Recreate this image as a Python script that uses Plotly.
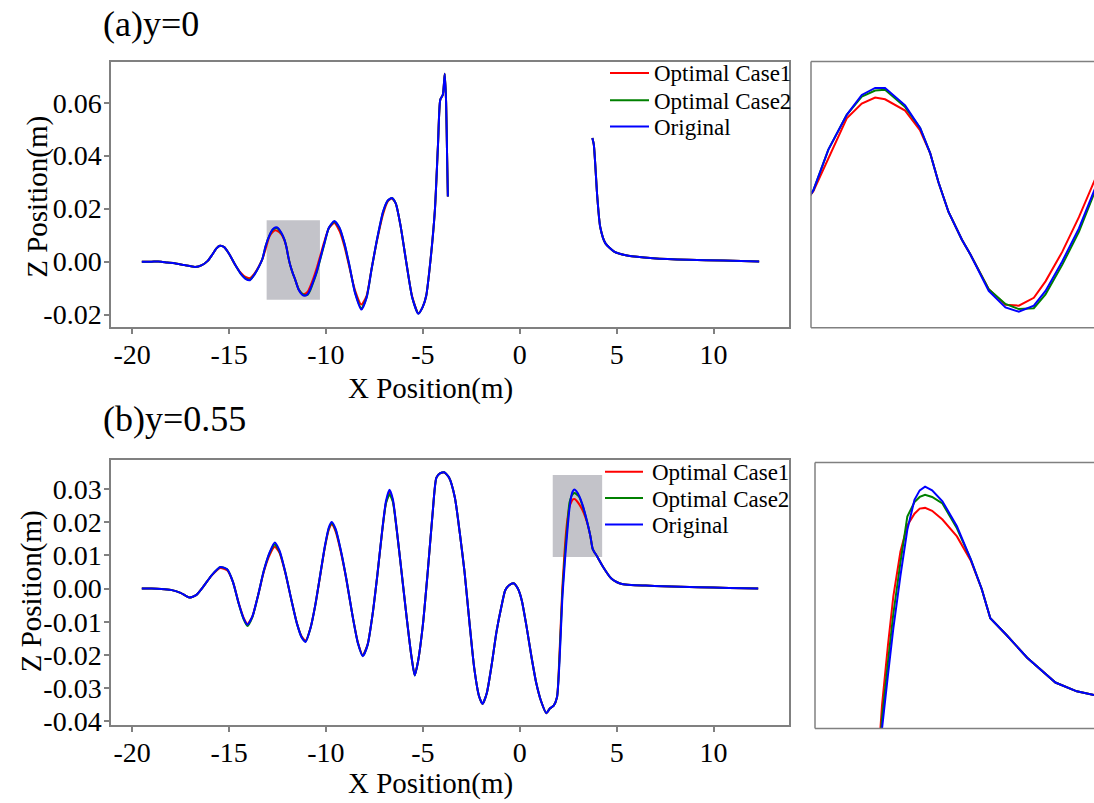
import plotly.graph_objects as go

W, H = 1094, 803
FONT = "Liberation Serif"

# ---------------- data: (a) y=0 ----------------
TOP_X = [
    -19.5, -19.0, -18.5, -18.2, -17.8, -17.3, -16.75, -16.4, -16.1, -15.85,
    -15.65, -15.47, -15.25, -15.0, -14.7, -14.4, -14.15, -13.92, -13.7, -13.45,
    -13.275, -13.116, -12.921, -12.762, -12.62, -12.515, -12.302, -12.143, -12.037, -11.948,
    -11.842, -11.7, -11.61, -11.416, -11.239, -11.097, -10.938, -10.814, -10.637, -10.46,
    -10.293, -10.1, -9.85, -9.57, -9.3, -9.05, -8.8, -8.5, -8.17, -7.9,
    -7.65, -7.35, -7.05, -6.8, -6.6, -6.4, -6.15, -5.85, -5.55, -5.23,
    -5.0, -4.83, -4.6, -4.38, -4.22, -4.10, -3.97, -3.87, -3.80, -3.75,
    -3.71, None, 3.745, 3.82, 4.00, 4.15, 4.42, 4.87, 5.60, 6.88,
    8.70, 10.52, 12.35,
]
TOP_ORIGINAL = [
    0.0, 0.0, 0.0, -0.0003, -0.0006, -0.0013, -0.0020, -0.0013, 0.0003, 0.0028,
    0.0050, 0.0060, 0.0055, 0.0030, -0.0010, -0.0045, -0.0065, -0.0070, -0.0050, -0.0018,
    0.0011, 0.0058, 0.0098, 0.0121, 0.0129, 0.0129, 0.0109, 0.0083, 0.0054, 0.0020,
    -0.0014, -0.0046, -0.0063, -0.0105, -0.0124, -0.0129, -0.0122, -0.0105, -0.0071, -0.0033,
    0.0012, 0.0065, 0.0128, 0.0153, 0.0128, 0.0070, -0.0010, -0.0118, -0.0181, -0.0135,
    -0.0030, 0.0090, 0.0190, 0.0232, 0.0240, 0.0220, 0.0135, -0.0005, -0.0135, -0.0197,
    -0.0170, -0.0130, 0.0010, 0.0194, 0.0440, 0.0612, 0.0630, 0.0709, 0.0600, 0.0400,
    0.0246, None, 0.0467, 0.0442, 0.0243, 0.0131, 0.0069, 0.0038, 0.0022, 0.0013,
    0.0007, 0.0004, 0.0001,
]
TOP_CASE1 = [
    0.0, 0.0, 0.0, -0.0003, -0.0006, -0.0013, -0.0020, -0.0013, 0.0003, 0.0028,
    0.0050, 0.0060, 0.0055, 0.0030, -0.0010, -0.0042, -0.0058, -0.0062, -0.0046, -0.0016,
    0.0010, 0.0047, 0.0094, 0.0111, 0.0118, 0.0116, 0.0103, 0.0080, 0.0054, 0.0020,
    -0.0014, -0.0046, -0.0063, -0.0103, -0.0121, -0.0122, -0.0113, -0.0094, -0.0060, -0.0020,
    0.0022, 0.0072, 0.0126, 0.0146, 0.0115, 0.0058, -0.0018, -0.0108, -0.0162, -0.0128,
    -0.0028, 0.0085, 0.0180, 0.0228, 0.0238, 0.0220, 0.0135, -0.0005, -0.0132, -0.0195,
    -0.0170, -0.0130, 0.0010, 0.0194, 0.0440, 0.0612, 0.0630, 0.0709, 0.0600, 0.0400,
    0.0246, None, 0.0467, 0.0442, 0.0243, 0.0131, 0.0069, 0.0038, 0.0022, 0.0013,
    0.0007, 0.0004, 0.0001,
]
TOP_CASE2 = [
    0.0, 0.0, 0.0, -0.0003, -0.0006, -0.0013, -0.0020, -0.0013, 0.0003, 0.0028,
    0.0050, 0.0060, 0.0055, 0.0030, -0.0010, -0.0045, -0.0063, -0.0068, -0.0050, -0.0018,
    0.0011, 0.0058, 0.0098, 0.0119, 0.0126, 0.0127, 0.0107, 0.0083, 0.0054, 0.0020,
    -0.0014, -0.0046, -0.0063, -0.0103, -0.0120, -0.0126, -0.0125, -0.0109, -0.0075, -0.0037,
    0.0009, 0.0062, 0.0127, 0.0151, 0.0126, 0.0068, -0.0012, -0.0116, -0.0176, -0.0134,
    -0.0030, 0.0089, 0.0188, 0.0231, 0.0240, 0.0220, 0.0135, -0.0005, -0.0135, -0.0196,
    -0.0170, -0.0130, 0.0010, 0.0194, 0.0440, 0.0612, 0.0630, 0.0709, 0.0600, 0.0400,
    0.0246, None, 0.0467, 0.0442, 0.0243, 0.0131, 0.0069, 0.0038, 0.0022, 0.0013,
    0.0007, 0.0004, 0.0001,
]

# ---------------- data: (b) y=0.55 ----------------
BOT_X = [
    -19.5, -19.0, -18.5, -18.0, -17.5, -17.05, -16.7, -16.3, -15.9, -15.45,
    -15.1, -14.8, -14.5, -14.25, -14.05, -13.8, -13.5, -13.2, -12.9, -12.64,
    -12.4, -12.1, -11.8, -11.5, -11.25, -11.05, -10.8, -10.55, -10.3, -10.05,
    -9.85, -9.7, -9.5, -9.25, -8.95, -8.65, -8.35, -8.1, -7.85, -7.6,
    -7.35, -7.1, -6.9, -6.72, -6.55, -6.35, -6.1, -5.85, -5.6, -5.42,
    -5.25, -5.0, -4.75, -4.5, -4.3, -4.1, -3.9, -3.65, -3.35, -3.1,
    -2.85, -2.6, -2.35, -2.1, -1.92, -1.7, -1.45, -1.2, -0.95, -0.75,
    -0.55, -0.32, -0.1, 0.1, 0.35, 0.6, 0.85, 1.1, 1.37, 1.55,
    1.75, 1.92, 2.05, 2.193, 2.28, 2.357, 2.46, 2.56, 2.664, 2.74,
    2.818, 2.92, 3.07, 3.28, 3.48, 3.64, 3.765, 4.0, 4.3, 4.71,
    5.02, 5.27, 5.74, 6.5, 7.38, 9.2, 10.8, 12.3,
]
BOT_ORIGINAL = [
    0.0, 0.0, -0.0001, -0.0004, -0.0013, -0.0027, -0.0020, 0.0008, 0.0040, 0.0065,
    0.0058, 0.0020, -0.0045, -0.0090, -0.0109, -0.0085, -0.0020, 0.0055, 0.0110, 0.0139,
    0.0115, 0.0050, -0.0030, -0.0105, -0.0148, -0.0161, -0.0120, -0.0050, 0.0040, 0.0130,
    0.0185, 0.0201, 0.0180, 0.0120, 0.0030, -0.0075, -0.0165, -0.0204, -0.0170, -0.0080,
    0.0040, 0.0175, 0.0265, 0.0298, 0.0270, 0.0180, 0.0050, -0.0080, -0.0200, -0.0262,
    -0.0220, -0.0110, 0.0050, 0.0225, 0.0335, 0.0348, 0.0351, 0.0335, 0.0275, 0.0170,
    0.0050, -0.0100, -0.0240, -0.0325, -0.0348, -0.0315, -0.0230, -0.0130, -0.0055, -0.0005,
    0.0010, 0.0016, 0.0000, -0.0035, -0.0115, -0.0205, -0.0285, -0.0340, -0.0376, -0.0362,
    -0.0353, -0.0328, -0.0220, -0.0032, 0.0042, 0.0105, 0.0177, 0.0240, 0.0281, 0.0294,
    0.0299, 0.0294, 0.0279, 0.0245, 0.0200, 0.0159, 0.0119, 0.0096, 0.0065, 0.0031,
    0.0019, 0.0014, 0.0011, 0.0009, 0.0007, 0.0004, 0.0002, 0.0000,
]
BOT_CASE1 = [
    0.0, 0.0, -0.0001, -0.0004, -0.0013, -0.0027, -0.0020, 0.0008, 0.0039, 0.0062,
    0.0055, 0.0020, -0.0044, -0.0088, -0.0107, -0.0085, -0.0020, 0.0052, 0.0102, 0.0126,
    0.0108, 0.0048, -0.0030, -0.0104, -0.0145, -0.0157, -0.0119, -0.0050, 0.0038, 0.0126,
    0.0178, 0.0193, 0.0172, 0.0115, 0.0028, -0.0075, -0.0163, -0.0201, -0.0168, -0.0080,
    0.0040, 0.0172, 0.0260, 0.0289, 0.0266, 0.0178, 0.0050, -0.0080, -0.0200, -0.0261,
    -0.0220, -0.0110, 0.0050, 0.0225, 0.0335, 0.0348, 0.0350, 0.0335, 0.0275, 0.0170,
    0.0050, -0.0100, -0.0240, -0.0325, -0.0348, -0.0315, -0.0230, -0.0130, -0.0055, -0.0005,
    0.0010, 0.0016, 0.0000, -0.0035, -0.0115, -0.0205, -0.0285, -0.0340, -0.0376, -0.0362,
    -0.0353, -0.0328, -0.0195, 0.0000, 0.0083, 0.0149, 0.0210, 0.0246, 0.0262, 0.0269,
    0.0270, 0.0266, 0.0254, 0.0231, 0.0198, 0.0159, 0.0119, 0.0096, 0.0065, 0.0031,
    0.0019, 0.0014, 0.0011, 0.0009, 0.0007, 0.0004, 0.0002, 0.0000,
]
BOT_CASE2 = [
    0.0, 0.0, -0.0001, -0.0004, -0.0013, -0.0027, -0.0020, 0.0008, 0.0040, 0.0065,
    0.0058, 0.0020, -0.0046, -0.0092, -0.0113, -0.0087, -0.0020, 0.0055, 0.0108, 0.0133,
    0.0112, 0.0050, -0.0030, -0.0105, -0.0147, -0.0160, -0.0120, -0.0050, 0.0040, 0.0128,
    0.0182, 0.0197, 0.0177, 0.0119, 0.0030, -0.0075, -0.0165, -0.0203, -0.0170, -0.0080,
    0.0040, 0.0173, 0.0258, 0.0284, 0.0262, 0.0177, 0.0050, -0.0080, -0.0200, -0.0262,
    -0.0220, -0.0110, 0.0050, 0.0225, 0.0335, 0.0348, 0.0351, 0.0335, 0.0275, 0.0170,
    0.0050, -0.0100, -0.0240, -0.0325, -0.0348, -0.0315, -0.0230, -0.0130, -0.0055, -0.0005,
    0.0010, 0.0016, 0.0000, -0.0035, -0.0115, -0.0205, -0.0285, -0.0340, -0.0376, -0.0362,
    -0.0353, -0.0328, -0.0208, -0.0018, 0.0060, 0.0125, 0.0195, 0.0258, 0.0278, 0.0285,
    0.0288, 0.0285, 0.0276, 0.0242, 0.0200, 0.0159, 0.0119, 0.0096, 0.0065, 0.0031,
    0.0019, 0.0014, 0.0011, 0.0009, 0.0007, 0.0004, 0.0002, 0.0000,
]

SERIES_NAMES = ["Optimal Case1", "Optimal Case2", "Original"]
SERIES_COLORS = ["#ff0000", "#008000", "#0000ff"]

PANEL_TITLES = ["(a)y=0", "(b)y=0.55"]
X_TITLE = "X Position(m)"
Y_TITLE = "Z Position(m)"

X_TICKS = [-20, -15, -10, -5, 0, 5, 10]
X_TICK_LABELS = ["-20", "-15", "-10", "-5", "0", "5", "10"]
TOP_Y_TICKS = [-0.02, 0.0, 0.02, 0.04, 0.06]
TOP_Y_TICK_LABELS = ["-0.02", "0.00", "0.02", "0.04", "0.06"]
BOT_Y_TICKS = [-0.04, -0.03, -0.02, -0.01, 0.0, 0.01, 0.02, 0.03]
BOT_Y_TICK_LABELS = ["-0.04", "-0.03", "-0.02", "-0.01", "0.00", "0.01", "0.02", "0.03"]

# zoom boxes (x0, x1, y0, y1) shown in grey on the main axes
TOP_ZOOM_BOX = [-13.06, -10.31, -0.0144, 0.0156]
BOT_ZOOM_BOX = [1.70, 4.25, 0.0095, 0.0343]

# ---------------- layout helpers ----------------
def px(xp):
    return xp / W


def py(yp):
    return 1 - yp / H


FRAME = "#808080"

fig = go.Figure()

top_series = [TOP_CASE1, TOP_CASE2, TOP_ORIGINAL]
bot_series = [BOT_CASE1, BOT_CASE2, BOT_ORIGINAL]
for (xa, ya), xs, series, shape in [
    (("x", "y"), TOP_X, top_series, "spline"),
    (("x2", "y2"), TOP_X, top_series, "linear"),
    (("x3", "y3"), BOT_X, bot_series, "spline"),
    (("x4", "y4"), BOT_X, bot_series, "linear"),
]:
    for name, color, ys in zip(SERIES_NAMES, SERIES_COLORS, series):
        fig.add_trace(go.Scatter(
            x=xs, y=ys, mode="lines", name=name, xaxis=xa, yaxis=ya,
            line=dict(color=color, width=2, shape=shape, smoothing=0.6),
            showlegend=False, connectgaps=False, hoverinfo="skip",
        ))

main_x = dict(
    range=[-21.09, 13.89], tickvals=X_TICKS, ticktext=X_TICK_LABELS,
    showline=True, mirror=True, linecolor=FRAME, linewidth=1.5,
    ticks="outside", ticklen=5, tickwidth=1.5, tickcolor=FRAME,
    showgrid=False, zeroline=False, ticklabelstandoff=-4,
    tickfont=dict(family=FONT, size=28, color="black"),
)
main_y = dict(
    showline=True, mirror=True, linecolor=FRAME, linewidth=1.5,
    ticks="outside", ticklen=5, tickwidth=1.5, tickcolor=FRAME,
    showgrid=False, zeroline=False, ticklabelstandoff=-3,
    tickfont=dict(family=FONT, size=28, color="black"),
)
inset_ax = dict(showline=False, showticklabels=False, ticks="",
                showgrid=False, zeroline=False)

fig.update_layout(
    width=W, height=H, autosize=False,
    margin=dict(l=0, r=0, t=0, b=0),
    paper_bgcolor="white", plot_bgcolor="white",
    showlegend=False,
    font=dict(family=FONT, color="black"),
    xaxis=dict(domain=[px(111), px(789)], anchor="y", **main_x),
    yaxis=dict(domain=[py(331.7), py(62.5)], anchor="x",
               range=[-0.02473, 0.0755], tickvals=TOP_Y_TICKS,
               ticktext=TOP_Y_TICK_LABELS, **main_y),
    xaxis2=dict(domain=[px(811), 1.0], anchor="y2",
                range=[-13.30, -10.30], **inset_ax),
    yaxis2=dict(domain=[py(332.3), py(62.3)], anchor="x2",
                range=[-0.01475, 0.01596], **inset_ax),
    xaxis3=dict(domain=[px(111), px(789)], anchor="y3", **main_x),
    yaxis3=dict(domain=[py(735.5), py(466.7)], anchor="x3",
                range=[-0.0413, 0.0387], tickvals=BOT_Y_TICKS,
                ticktext=BOT_Y_TICK_LABELS, **main_y),
    xaxis4=dict(domain=[px(815), 1.0], anchor="y4",
                range=[1.22, 5.27], **inset_ax),
    yaxis4=dict(domain=[py(738.7), py(469)], anchor="x4",
                range=[-0.0032, 0.0332], **inset_ax),
)

shapes = []
# grey zoom boxes
for (xr, yr), box in [(("x", "y"), TOP_ZOOM_BOX), (("x3", "y3"), BOT_ZOOM_BOX)]:
    shapes.append(dict(type="rect", xref=xr, yref=yr,
                       x0=box[0], x1=box[1], y0=box[2], y1=box[3],
                       fillcolor="#c3c3c9", line=dict(width=0), layer="below"))
# inset frames (left, top, bottom; right side runs off the page)
for left, top, bottom in [(811, 62.3, 332.3), (815, 469, 738.7)]:
    for (x0, y0, x1, y1) in [(left, top, left, bottom),
                             (left, top, W + 5, top),
                             (left, bottom, W + 5, bottom)]:
        shapes.append(dict(type="line", xref="paper", yref="paper",
                           x0=px(x0), y0=py(y0), x1=px(x1), y1=py(y1),
                           line=dict(color=FRAME, width=1.5)))

annotations = []
# manual legends
for (lx0, lx1, tx, rows) in [(610, 649, 652, [74, 101.7, 128.3]),
                             (605, 643, 650, [478.3, 505, 531.7])]:
    for name, color, yy in zip(SERIES_NAMES, SERIES_COLORS, rows):
        shapes.append(dict(type="line", xref="paper", yref="paper",
                           x0=px(lx0), x1=px(lx1), y0=py(yy), y1=py(yy),
                           line=dict(color=color, width=2)))
        annotations.append(dict(text=name, xref="paper", yref="paper",
                                x=px(tx), y=py(yy + 1), xanchor="left",
                                yanchor="middle", showarrow=False,
                                font=dict(family=FONT, size=23, color="black")))

# panel titles
for title, yy in zip(PANEL_TITLES, [24, 425]):
    annotations.append(dict(text=title, xref="paper", yref="paper",
                            x=px(101), y=py(yy), xanchor="left",
                            yanchor="middle", showarrow=False,
                            font=dict(family=FONT, size=36, color="black")))
# axis titles
for yy in [394, 794]:
    annotations.append(dict(text=X_TITLE, xref="paper", yref="paper",
                            x=px(430.5), y=py(yy), xanchor="center",
                            yanchor="middle", showarrow=False,
                            font=dict(family=FONT, size=29, color="black")))
for xx, yy in [(37.5, 200), (31.5, 600)]:
    annotations.append(dict(text=Y_TITLE, xref="paper", yref="paper",
                            x=px(xx), y=py(yy), xanchor="center",
                            yanchor="middle", textangle=-90, showarrow=False,
                            font=dict(family=FONT, size=29, color="black")))

fig.update_layout(shapes=shapes, annotations=annotations)

fig.write_html(
    "out.html",
    config={"displayModeBar": False},
    post_script="document.body.style.margin='0';"
                "document.body.style.overflow='hidden';",
)
